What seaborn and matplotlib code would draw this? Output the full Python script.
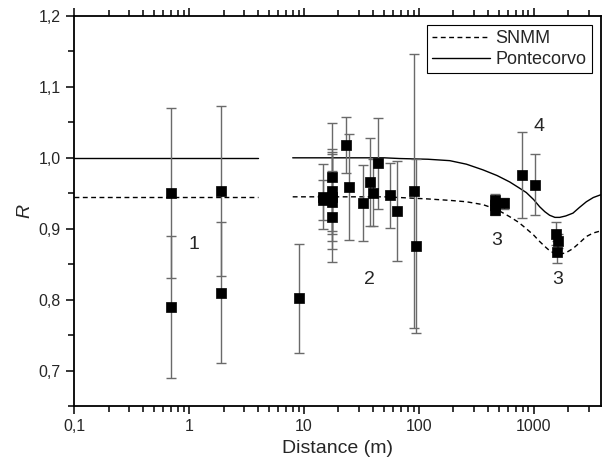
import numpy as np
import pandas as pd
import matplotlib
matplotlib.use('Agg')
import matplotlib.pyplot as plt
import seaborn as sns
from matplotlib.ticker import FixedLocator, FuncFormatter, LogLocator, MultipleLocator, NullFormatter

# measured ratios R vs. distance (m), with their errors
dist = [0.7, 0.7, 1.9, 1.9,
        9, 14.7, 14.7, 17.6, 17.6, 17.6, 17.6, 17.6, 23.5, 24.5, 33, 38, 40, 44, 56, 65, 91, 95,
        458, 458, 458, 556, 1575, 1625, 1600,
        793, 1020]
ratio = [0.950, 0.790, 0.953, 0.810,
         0.802, 0.945, 0.941, 0.973, 0.953, 0.945, 0.938, 0.917, 1.018, 0.959, 0.936, 0.966, 0.951, 0.992, 0.947, 0.925, 0.953, 0.876,
         0.941, 0.934, 0.927, 0.936, 0.893, 0.883, 0.867,
         0.976, 0.962]
err = [0.12, 0.10, 0.12, 0.10,
       0.077, 0.046, 0.028, 0.076, 0.060, 0.063, 0.067, 0.064, 0.039, 0.075, 0.054, 0.062, 0.047, 0.064, 0.046, 0.070, 0.193, 0.123,
       0.008, 0.008, 0.008, 0.008, 0.016, 0.010, 0.016,
       0.061, 0.043]

# model curves (left flat part and right part)
flat_dist = [0.1, 4]
flat_pontecorvo = [1.0, 1.0]
flat_snmm = [0.945, 0.945]

curve_dist = [8, 20, 50, 68, 120, 186, 260, 362, 480, 618, 740, 863, 1000, 1127,
              1250, 1376, 1530, 1683, 1900, 2197, 2500, 2871, 3300, 3850]
pontecorvo = [1.0, 1.0, 1.0, 0.999, 0.998, 0.996, 0.991, 0.983, 0.975, 0.966, 0.958, 0.951, 0.941, 0.931,
              0.924, 0.919, 0.916, 0.916, 0.918, 0.922, 0.930, 0.938, 0.944, 0.948]
snmm = [0.945, 0.945, 0.945, 0.944, 0.942, 0.940, 0.938, 0.934, 0.927, 0.917, 0.909, 0.900, 0.891, 0.882,
        0.875, 0.869, 0.865, 0.864, 0.866, 0.872, 0.880, 0.889, 0.894, 0.897]

# group labels
group_text = ['1', '2', '3', '3', '4']
group_x = [1.1, 37, 473, 1620, 1120]
group_y = [0.878, 0.828, 0.884, 0.828, 1.044]

sns.set_style('ticks')
plt.rcParams['font.family'] = ['Liberation Sans', 'DejaVu Sans']

fig = plt.figure(figsize=(6.1, 4.61), dpi=100)
ax = fig.add_axes([0.1213, 0.1193, 0.8639, 0.846])

data = pd.DataFrame({'dist': dist, 'ratio': ratio, 'err': err})

sns.lineplot(x=flat_dist, y=flat_snmm, ax=ax, color='k', lw=1.0, linestyle=(0, (3.5, 2.5)))
sns.lineplot(x=flat_dist, y=flat_pontecorvo, ax=ax, color='k', lw=1.0)
sns.lineplot(x=curve_dist, y=snmm, ax=ax, color='k', lw=1.0, linestyle=(0, (3.5, 2.5)),
             sort=False, estimator=None, label='SNMM')
sns.lineplot(x=curve_dist, y=pontecorvo, ax=ax, color='k', lw=1.0,
             sort=False, estimator=None, label='Pontecorvo')

ax.errorbar(data['dist'], data['ratio'], yerr=data['err'], fmt='none',
            ecolor='#6a6a6a', elinewidth=1.0, capsize=3.5, capthick=1.0, zorder=3)
sns.scatterplot(data=data, x='dist', y='ratio', ax=ax, marker='s', s=44,
                color='k', edgecolor='k', linewidth=0.5, zorder=4)

for t, x, y in zip(group_text, group_x, group_y):
    ax.text(x, y, t, fontsize=14, ha='center', va='center')

ax.set_xscale('log')
ax.set_xlim(0.1, 3850)
ax.set_ylim(0.65, 1.2)

ax.xaxis.set_major_locator(FixedLocator([0.1, 1, 10, 100, 1000]))
ax.xaxis.set_minor_locator(LogLocator(base=10, subs=np.arange(2, 10)))
ax.xaxis.set_minor_formatter(NullFormatter())
ax.xaxis.set_major_formatter(FuncFormatter(lambda v, p: ('%g' % v).replace('.', ',')))
ax.yaxis.set_major_locator(MultipleLocator(0.1))
ax.yaxis.set_minor_locator(MultipleLocator(0.05))
ax.yaxis.set_major_formatter(FuncFormatter(lambda v, p: ('%.1f' % v).replace('.', ',')))

ax.tick_params(which='both', top=True, right=False, direction='out', width=1.1, labelsize=11.5, color='k')
ax.tick_params(which='major', length=6)
ax.tick_params(which='minor', length=4)
for s in ax.spines.values():
    s.set_linewidth(1.3)
    s.set_color('k')
    s.set_visible(True)

ax.set_xlabel('Distance (m)', fontsize=14)
ax.set_ylabel('R', fontsize=14, style='italic')

leg = ax.legend(loc='upper right', fontsize=13, frameon=True, fancybox=False,
                edgecolor='k', framealpha=1, handlelength=3.2, borderpad=0.3,
                labelspacing=0.2, handletextpad=0.3, borderaxespad=0,
                bbox_to_anchor=(0.983, 0.977))
leg.get_frame().set_linewidth(0.8)

fig.savefig('out.png', dpi=100)
